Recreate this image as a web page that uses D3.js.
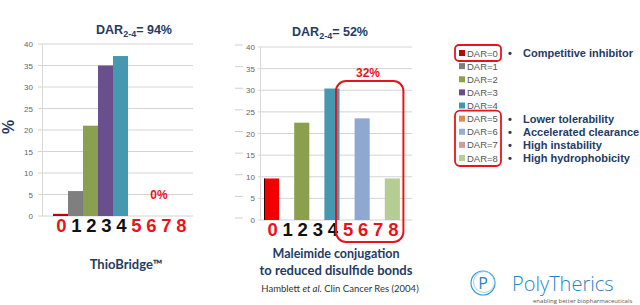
<!DOCTYPE html>
<html>
<head>
<meta charset="utf-8">
<script src="https://cdn.jsdelivr.net/npm/d3@7"></script>
<style>
  body { margin: 0; background: #fff; }
  svg { display: block; }
  .tick text { font-family: "Liberation Sans", Arial, sans-serif; font-size: 8px; fill: #666; }
</style>
</head>
<body>
<div class="chart"></div>
<script>
// Data
var dars = ["0", "1", "2", "3", "4", "5", "6", "7", "8"];
var thioValues = [0.5, 5.8, 21, 35, 37.2, 0, 0, 0, 0];
var maleValues = [9.6, 0, 22.5, 0, 30.4, 0, 23.5, 0, 9.6];
var yTicks = [0, 5, 10, 15, 20, 25, 30, 35, 40];
var barColors = ["#c00000", "#7f7f7f", "#8aa04f", "#6a4f8f", "#4598b0", "#e0804a", "#8fa8d0", "#d39a9a", "#b5cc92"];
var legendColors = ["#c00000", "#7f7f7f", "#8ea04a", "#6b4c8c", "#4197ae", "#e08a50", "#95aed3", "#d39a9a", "#b8cf96"];
var effects = ["Competitive inhibitor", "", "", "", "", "Lower tolerability", "Accelerated clearance", "High instability", "High hydrophobicity"];

var navy = "#243b63";
var red = "#e8141b";

var svg = d3.select(".chart")
  .append("svg")
  .attr("width", 640)
  .attr("height", 305);

function drawChart(opts) {
  var g = svg.append("g");
  var x = d3.scaleBand()
    .domain(dars)
    .range([opts.x0, opts.x0 + 9 * opts.step])
    .padding(0);
  var y = d3.scaleLinear()
    .domain([0, 40])
    .range([opts.yBase, opts.yTop]);

  // gridlines
  g.selectAll(".grid")
    .data(yTicks)
    .enter()
    .append("line")
    .attr("x1", opts.gridL)
    .attr("x2", opts.gridR)
    .attr("y1", d => y(d))
    .attr("y2", d => y(d))
    .attr("stroke", "#d4d4d4")
    .attr("stroke-width", 1);

  // axis
  var leftAxis = d3.axisLeft(y).tickValues(yTicks).tickSize(0).tickPadding(opts.pad);
  var ax = g.append("g")
    .attr("transform", `translate(${opts.axisX}, 0)`)
    .call(leftAxis);
  ax.select(".domain").attr("stroke", "#d8d8d8");
  ax.selectAll(".tick text").attr("fill", opts.tickColor);

  if (opts.dashes) {
    g.selectAll(".dash")
      .data(yTicks)
      .enter()
      .append("line")
      .attr("x1", opts.axisX - 25)
      .attr("x2", opts.axisX - 17)
      .attr("y1", d => y(d) - 2)
      .attr("y2", d => y(d) - 2)
      .attr("stroke", "#cfcfcf");
  }

  // bars
  g.selectAll(".bar")
    .data(opts.values)
    .enter()
    .append("rect")
    .attr("x", (d, i) => x(dars[i]))
    .attr("width", x.bandwidth())
    .attr("y", d => y(d))
    .attr("height", d => y(0) - y(d))
    .attr("fill", (d, i) => (i == 0 ? opts.zeroColor : barColors[i]));

  if (opts.edge) {
    g.append("line")
      .attr("x1", x("0") + 0.5)
      .attr("x2", x("0") + 0.5)
      .attr("y1", y(opts.values[0]))
      .attr("y2", y(0))
      .attr("stroke", "#3a0000")
      .attr("stroke-width", 1);
  }

  // category labels
  g.selectAll(".cat")
    .data(dars)
    .enter()
    .append("text")
    .attr("x", d => x(d) + x.bandwidth() / 2 + 1)
    .attr("y", opts.yBase + 16)
    .attr("text-anchor", "middle")
    .style("font-family", "'Liberation Sans', Arial, sans-serif")
    .style("font-size", "18.5px")
    .style("font-weight", "bold")
    .attr("fill", (d, i) => (i == 0 || i > 4 ? red : "#111"))
    .text(d => d);

  // title
  var t = g.append("text")
    .attr("x", opts.titleX)
    .attr("y", opts.titleY)
    .attr("text-anchor", "middle")
    .style("font-family", "'Liberation Sans', Arial, sans-serif")
    .style("font-size", "12.5px")
    .style("font-weight", "bold")
    .attr("fill", navy);
  t.append("tspan").text("DAR");
  t.append("tspan").attr("dy", 3).style("font-size", "9px").text("2-4");
  t.append("tspan").attr("dy", -3).text("= " + opts.title);

  return {x: x, y: y, g: g};
}

var left = drawChart({
  x0: 53, step: 15, yBase: 216, yTop: 44,
  gridL: 38, gridR: 193, axisX: 42, pad: 9,
  tickColor: "#555", values: thioValues, zeroColor: "#c00000",
  titleX: 134, titleY: 34, title: "94%", dashes: false, edge: false
});

var right = drawChart({
  x0: 264, step: 15.1, yBase: 220, yTop: 47,
  gridL: 258, gridR: 412, axisX: 260, pad: 5,
  tickColor: "#888", values: maleValues, zeroColor: "#f00000",
  titleX: 330, titleY: 36, title: "52%", dashes: true, edge: true
});

// "%" axis label
svg.append("text")
  .attr("transform", "translate(14, 127) rotate(-90)")
  .attr("text-anchor", "middle")
  .style("font-family", "'Liberation Sans', Arial, sans-serif")
  .style("font-size", "16px")
  .style("font-weight", "bold")
  .attr("fill", navy)
  .text("%");

// 0% annotation
svg.append("text")
  .attr("x", 159)
  .attr("y", 199)
  .attr("text-anchor", "middle")
  .style("font-family", "'Liberation Sans', Arial, sans-serif")
  .style("font-size", "12px")
  .style("font-weight", "bold")
  .attr("fill", red)
  .text("0%");

// 32% box
svg.append("rect")
  .attr("x", right.x("5") - 3.5)
  .attr("y", 81)
  .attr("width", right.x("8") + right.x.bandwidth() + 7 - right.x("5"))
  .attr("height", 161)
  .attr("rx", 10)
  .attr("fill", "none")
  .attr("stroke", red)
  .attr("stroke-width", 2);
svg.append("text")
  .attr("x", 368)
  .attr("y", 77)
  .attr("text-anchor", "middle")
  .style("font-family", "'Liberation Sans', Arial, sans-serif")
  .style("font-size", "12px")
  .style("font-weight", "bold")
  .attr("fill", red)
  .text("32%");

// captions
var capFont = "Lato, 'Open Sans', sans-serif";
svg.append("text")
  .attr("x", 126).attr("y", 269)
  .attr("text-anchor", "middle")
  .style("font-family", capFont).style("font-size", "13px").style("font-weight", "bold")
  .attr("fill", navy)
  .text("ThioBridge™");
svg.append("text")
  .attr("x", 336).attr("y", 258)
  .attr("text-anchor", "middle")
  .style("font-family", capFont).style("font-size", "12.5px").style("font-weight", "bold")
  .attr("fill", navy)
  .text("Maleimide conjugation");
svg.append("text")
  .attr("x", 336).attr("y", 275)
  .attr("text-anchor", "middle")
  .style("font-family", capFont).style("font-size", "13px").style("font-weight", "bold")
  .attr("fill", navy)
  .text("to reduced disulfide bonds");
var ref = svg.append("text")
  .attr("x", 340).attr("y", 292)
  .attr("text-anchor", "middle")
  .style("font-family", capFont).style("font-size", "9.5px")
  .attr("fill", "#333");
ref.append("tspan").text("Hamblett ");
ref.append("tspan").style("font-style", "italic").text("et al");
ref.append("tspan").text(". Clin Cancer Res (2004)");

// legend
var legY = d3.scaleLinear().domain([0, 8]).range([53, 158]);
var leg = svg.append("g");
leg.selectAll(".sw")
  .data(dars)
  .enter()
  .append("rect")
  .attr("x", 459)
  .attr("y", d => legY(+d) - 3)
  .attr("width", 6)
  .attr("height", 6)
  .attr("fill", (d, i) => legendColors[i]);
leg.selectAll(".lt")
  .data(dars)
  .enter()
  .append("text")
  .attr("x", 467)
  .attr("y", d => legY(+d) + 3.5)
  .style("font-family", "'Liberation Sans', Arial, sans-serif")
  .style("font-size", "9.5px")
  .attr("fill", "#555")
  .text(d => "DAR=" + d);
var effectRows = effects.map((e, i) => ({i: i, e: e})).filter(r => r.e != "");
leg.selectAll(".bul")
  .data(effectRows)
  .enter()
  .append("text")
  .attr("x", 508)
  .attr("y", r => legY(r.i) + 4)
  .style("font-family", "'Liberation Sans', Arial, sans-serif")
  .style("font-size", "11px")
  .style("font-weight", "bold")
  .attr("fill", navy)
  .text("•");
leg.selectAll(".eff")
  .data(effectRows)
  .enter()
  .append("text")
  .attr("x", 523)
  .attr("y", r => legY(r.i) + 4)
  .style("font-family", "'Liberation Sans', Arial, sans-serif")
  .style("font-size", "11px")
  .style("font-weight", "bold")
  .attr("fill", navy)
  .text(r => r.e);
leg.append("rect")
  .attr("x", 455).attr("y", legY(0) - 8)
  .attr("width", 46).attr("height", 16).attr("rx", 4)
  .attr("fill", "none").attr("stroke", red).attr("stroke-width", 1.8);
leg.append("rect")
  .attr("x", 455).attr("y", legY(5) - 8)
  .attr("width", 46).attr("height", legY(8) - legY(5) + 16).attr("rx", 5)
  .attr("fill", "none").attr("stroke", red).attr("stroke-width", 1.8);

// PolyTherics logo
var logo = svg.append("g");
logo.append("circle").attr("cx", 483).attr("cy", 283).attr("r", 12)
  .attr("fill", "none").attr("stroke", "#3a9ad6").attr("stroke-width", 1.2);
logo.append("circle").attr("cx", 484).attr("cy", 282).attr("r", 10.5)
  .attr("fill", "none").attr("stroke", "#8cc8ea").attr("stroke-width", 0.8);
logo.append("text").attr("x", 483).attr("y", 289)
  .attr("text-anchor", "middle")
  .style("font-family", "'Open Sans', sans-serif").style("font-size", "16px")
  .attr("fill", "#2a84c6").text("P");
logo.append("text").attr("x", 512).attr("y", 291)
  .style("font-family", "'Open Sans', sans-serif").style("font-size", "20px")
  .style("font-weight", "300")
  .attr("fill", "#2a84c6").text("PolyTherics");
logo.append("text").attr("x", 533).attr("y", 303)
  .style("font-family", "'Open Sans', sans-serif").style("font-size", "6px")
  .attr("fill", "#555").text("enabling better biopharmaceuticals");
</script>
</body>
</html>
